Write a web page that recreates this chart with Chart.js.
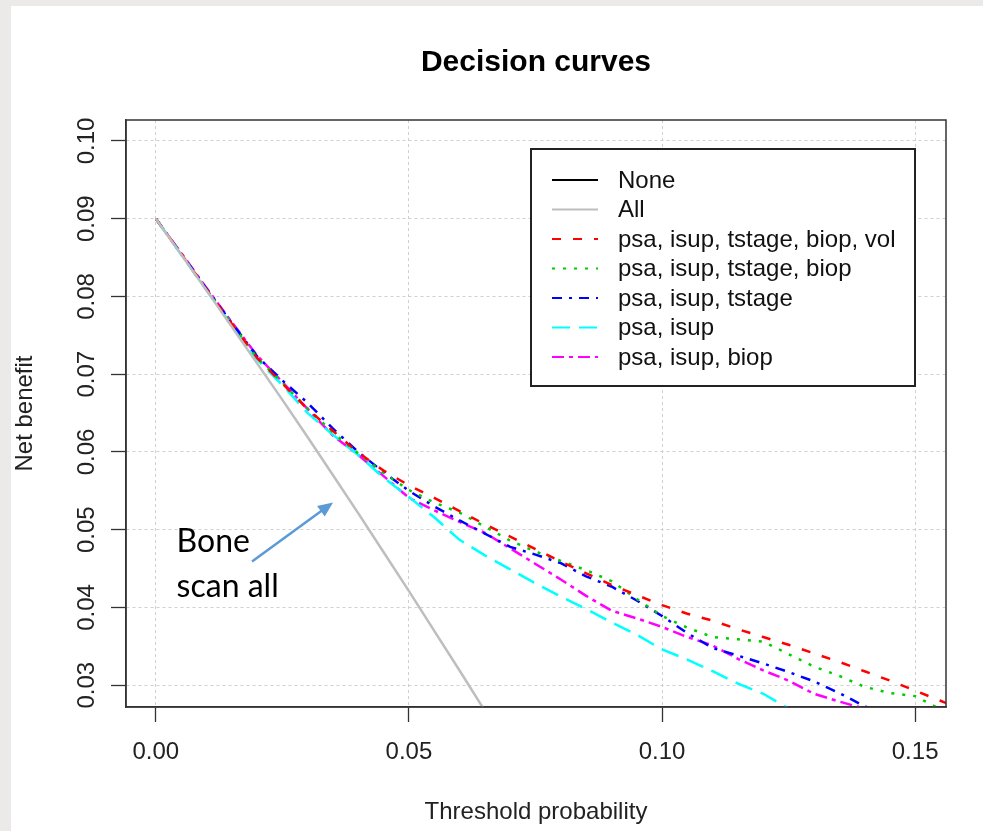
<!DOCTYPE html>
<html>
<head>
<meta charset="utf-8">
<title>Decision curves</title>
<script src="https://cdn.jsdelivr.net/npm/chart.js@4.4.1/dist/chart.umd.min.js"></script>
<style>
    body { margin: 0; background: #ebeae8; }
    #panel { position: absolute; left: 11px; top: 6px; width: 972px; height: 825px; background: #fff; }
</style>
</head>
<body>
<div id="panel"><canvas id="decisionChart" width="972" height="825"></canvas></div>
<script>
// threshold probabilities (shared grid for all curves)
const thresholds = [0, 0.005, 0.01, 0.015, 0.02, 0.025, 0.03, 0.035, 0.04, 0.045, 0.05, 0.055, 0.06, 0.065, 0.07, 0.075, 0.08,
    0.085, 0.09, 0.095, 0.10, 0.105, 0.11, 0.115, 0.12, 0.125, 0.13, 0.135, 0.14, 0.145, 0.15, 0.155, 0.16];

const noneThresholds = [0, 0.16];
const noneNet = [0, 0];

const allNet = [0.0900, 0.0854, 0.0808, 0.0761, 0.0714, 0.0667, 0.0619, 0.0570, 0.0521, 0.0471, 0.0421, 0.0370, 0.0319, 0.0267,
    null, null, null, null, null, null, null, null, null, null, null, null, null, null, null, null, null, null, null];

const volNet = [0.0900, 0.0855, 0.0809, 0.0765, 0.0721, 0.0688, 0.0655, 0.0627, 0.0599, 0.0576, 0.0557, 0.0541, 0.0524, 0.0507,
    0.0491, 0.0475, 0.0459, 0.0444, 0.0429, 0.0416, 0.0403, 0.0392, 0.0383, 0.0372, 0.0362, 0.0352, 0.0341, 0.0330, 0.0318,
    0.0306, 0.0293, 0.0280, 0.0267];

const biopNet = [0.0900, 0.0855, 0.0809, 0.0765, 0.0721, 0.0689, 0.0656, 0.0625, 0.0598, 0.0573, 0.0551, 0.0535, 0.0522, 0.0504,
    0.0486, 0.0472, 0.0460, 0.0448, 0.0434, 0.0411, 0.0389, 0.0374, 0.0362, 0.0359, 0.0356, 0.0340, 0.0324, 0.0312, 0.0298,
    0.0290, 0.0286, 0.0269, 0.0258];

const tstageNet = [0.0900, 0.0855, 0.0810, 0.0766, 0.0723, 0.0692, 0.0663, 0.0630, 0.0600, 0.0574, 0.0550, 0.0530, 0.0512, 0.0495,
    0.0478, 0.0468, 0.0457, 0.0440, 0.0427, 0.0409, 0.0389, 0.0367, 0.0348, 0.0338, 0.0328, 0.0317, 0.0305, 0.0290, 0.0273,
    0.0260, null, null, null];

const isupNet = [0.0900, 0.0854, 0.0808, 0.0763, 0.0719, 0.0686, 0.0650, 0.0622, 0.0596, 0.0567, 0.0542, 0.0516, 0.0487, 0.0467,
    0.0449, 0.0431, 0.0414, 0.0398, 0.0381, 0.0365, 0.0346, 0.0333, 0.0318, 0.0302, 0.0289, 0.0270,
    null, null, null, null, null, null, null];

const isupBiopNet = [0.0900, 0.0856, 0.0811, 0.0767, 0.0724, 0.0690, 0.0655, 0.0621, 0.0596, 0.0569, 0.0541, 0.0525, 0.0510, 0.0496,
    0.0476, 0.0456, 0.0436, 0.0415, 0.0396, 0.0386, 0.0375, 0.0362, 0.0351, 0.0334, 0.0319, 0.0306, 0.0289, 0.0279, 0.0270,
    null, null, null, null];

const xTicks = [0, 0.05, 0.10, 0.15];
const yTicks = [0.03, 0.04, 0.05, 0.06, 0.07, 0.08, 0.09, 0.10];

const fontFamily = "'Liberation Sans', Arial, sans-serif";

function toPoints(xs, ys) {
    return xs.map((x, i) => ({ x: x, y: ys[i] }));
}

function curve(label, xs, ys, color, dash, width) {
    return {
        label: label,
        data: toPoints(xs, ys),
        borderColor: color,
        borderDash: dash,
        borderWidth: width,
        pointRadius: 0,
        tension: 0,
        clip: 0,
        fill: false
    };
}

// title over the plot region, box, legend and the "Bone scan all" note
const rPlotExtras = {
    id: 'rPlotExtras',
    afterDatasetsDraw(chart) {
        const c = chart.ctx;
        const area = chart.chartArea;
        c.save();
        c.strokeStyle = '#333';
        c.lineWidth = 1.5;
        c.strokeRect(area.left, area.top, area.right - area.left, area.bottom - area.top);
        c.restore();
    },
    afterDraw(chart) {
        const c = chart.ctx;
        const area = chart.chartArea;
        const x = chart.scales.x;
        const y = chart.scales.y;

        c.save();
        c.fillStyle = '#000';
        c.font = 'bold 30px ' + fontFamily;
        c.textAlign = 'center';
        c.textBaseline = 'middle';
        c.fillText('Decision curves', (area.left + area.right) / 2, area.top - 57);
        c.restore();

        // legend
        const left = area.left + 405, top = area.top + 29;
        const right = area.right - 31, bottom = top + 237;
        c.save();
        c.fillStyle = '#fff';
        c.fillRect(left, top, right - left, bottom - top);
        c.strokeStyle = '#222';
        c.lineWidth = 2;
        c.strokeRect(left, top, right - left, bottom - top);
        c.font = '24px ' + fontFamily;
        c.textBaseline = 'middle';
        chart.data.datasets.forEach((ds, i) => {
            const cy = top + 31 + i * 29.5;
            c.beginPath();
            c.strokeStyle = ds.borderColor;
            c.lineWidth = 2;
            c.setLineDash(ds.borderDash);
            c.moveTo(left + 21, cy);
            c.lineTo(left + 67, cy);
            c.stroke();
            c.setLineDash([]);
            c.fillStyle = '#111';
            c.fillText(ds.label, left + 87, cy + 1);
        });
        c.restore();

        // annotation
        c.save();
        c.fillStyle = '#000';
        c.font = '32px Lato, sans-serif';
        c.textBaseline = 'alphabetic';
        c.fillText('Bone', x.getPixelForValue(0.0041), y.getPixelForValue(0.0472));
        c.fillText('scan all', x.getPixelForValue(0.0041), y.getPixelForValue(0.0413));

        const x0 = x.getPixelForValue(0.0190), y0 = y.getPixelForValue(0.0459);
        const x1 = x.getPixelForValue(0.0350), y1 = y.getPixelForValue(0.0535);
        const ang = Math.atan2(y1 - y0, x1 - x0);
        c.strokeStyle = '#5b9bd5';
        c.fillStyle = '#5b9bd5';
        c.lineWidth = 2.5;
        c.beginPath();
        c.moveTo(x0, y0);
        c.lineTo(x1 - 12 * Math.cos(ang), y1 - 12 * Math.sin(ang));
        c.stroke();
        c.beginPath();
        c.moveTo(x1, y1);
        c.lineTo(x1 - 15 * Math.cos(ang) + 6.5 * Math.sin(ang), y1 - 15 * Math.sin(ang) - 6.5 * Math.cos(ang));
        c.lineTo(x1 - 15 * Math.cos(ang) - 6.5 * Math.sin(ang), y1 - 15 * Math.sin(ang) + 6.5 * Math.cos(ang));
        c.closePath();
        c.fill();
        c.restore();
    }
};

function decisionChart() {
    const ctx = document.getElementById('decisionChart');
    new Chart(ctx, {
        type: 'line',
        data: {
            datasets: [
                curve('None', noneThresholds, noneNet, '#000000', [], 2),
                curve('All', thresholds, allNet, '#bebebe', [], 2.5),
                curve('psa, isup, tstage, biop, vol', thresholds, volNet, '#ff0000', [9, 12], 2.5),
                curve('psa, isup, tstage, biop', thresholds, biopNet, '#00cd00', [3, 8], 2.5),
                curve('psa, isup, tstage', thresholds, tstageNet, '#0000ff', [10, 7, 3, 7], 2.5),
                curve('psa, isup', thresholds, isupNet, '#00ffff', [18, 9], 2.5),
                curve('psa, isup, biop', thresholds, isupBiopNet, '#ff00ff', [12, 5, 4, 5], 2.5)
            ]
        },
        options: {
            responsive: false,
            animation: false,
            layout: { padding: { left: 0, right: 37, top: 114, bottom: 0 } },
            plugins: {
                legend: { display: false },
                tooltip: { enabled: false },
                title: { display: false }
            },
            scales: {
                x: {
                    type: 'linear',
                    min: -0.0059,
                    max: 0.1561,
                    afterBuildTicks: axis => { axis.ticks = xTicks.map(v => ({ value: v })); },
                    afterFit: axis => { axis.height = 124; },
                    ticks: {
                        autoSkip: false,
                        maxRotation: 0,
                        padding: 15.6,
                        color: '#222',
                        font: { family: fontFamily, size: 24 },
                        callback: v => v.toFixed(2)
                    },
                    grid: {
                        color: '#d0d0d0',
                        lineWidth: 1,
                        tickLength: 15,
                        tickColor: '#333',
                        tickWidth: 1.3,
                        tickBorderDash: []
                    },
                    border: { display: true, color: '#333', width: 1.5, dash: [3, 3] },
                    title: {
                        display: true,
                        text: 'Threshold probability',
                        color: '#222',
                        font: { family: fontFamily, size: 24 },
                        padding: { top: 0, bottom: 4.6 }
                    }
                },
                y: {
                    type: 'linear',
                    min: 0.0272,
                    max: 0.1027,
                    afterBuildTicks: axis => { axis.ticks = yTicks.map(v => ({ value: v })); },
                    afterFit: axis => { axis.width = 115; },
                    ticks: {
                        autoSkip: false,
                        minRotation: 90,
                        maxRotation: 90,
                        crossAlign: 'center',
                        padding: 0,
                        color: '#222',
                        font: { family: fontFamily, size: 24 },
                        callback: v => v.toFixed(2)
                    },
                    grid: {
                        color: '#d0d0d0',
                        lineWidth: 1,
                        tickLength: 15,
                        tickColor: '#333',
                        tickWidth: 1.3,
                        tickBorderDash: []
                    },
                    border: { display: true, color: '#333', width: 1.5, dash: [3, 3] },
                    title: {
                        display: true,
                        text: 'Net benefit',
                        color: '#222',
                        font: { family: fontFamily, size: 24 },
                        padding: { top: 0, bottom: 0 }
                    }
                }
            }
        },
        plugins: [rPlotExtras]
    });
}

decisionChart();
</script>
</body>
</html>
